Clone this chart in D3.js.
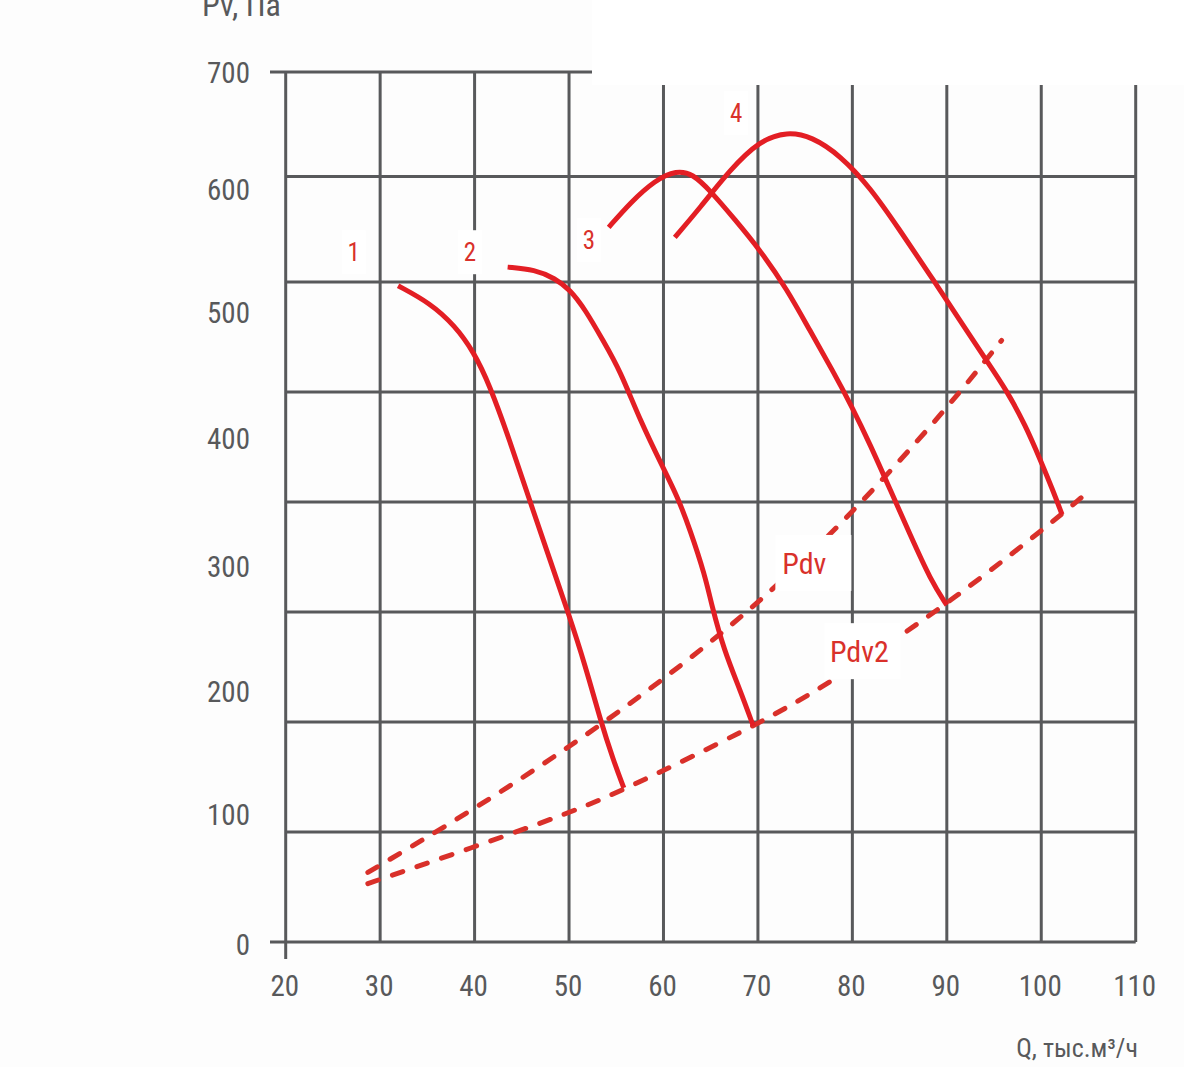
<!DOCTYPE html>
<html>
<head>
<meta charset="utf-8">
<script src="https://cdn.jsdelivr.net/npm/d3@7"></script>
<style>
  html, body { margin: 0; padding: 0; background: #fdfdfd; }
  svg { display: block; }
  text { font-family: "Roboto Condensed", "Liberation Sans Narrow", "DejaVu Sans Condensed", Roboto, sans-serif; font-stretch: condensed; }
</style>
</head>
<body>
<svg id="chart"></svg>
<script>
// ticks on the axes
const qTicks = [20, 30, 40, 50, 60, 70, 80, 90, 100, 110];
const pTicks = [0, 100, 200, 300, 400, 500, 600, 700];
// where the printed labels actually sit on the pressure scale (drawing is a bit uneven)
const pTickPos = [-1.5, 103, 202, 302.5, 405.5, 507, 606, 700];
// horizontal grid does not sit on the labels in the original drawing
const gridPa = [0, 88.5, 177, 265.5, 354, 442.5, 531, 616, 700];

// fan curves, [Q thousand m3/h, Pv Pa]
const curve1 = [[31.9, 528], [35.3, 514], [37.9, 496], [39.9, 475], [41.6, 448], [43.7, 404],
  [45.8, 356], [48.0, 307], [50.0, 263], [51.7, 223], [53.3, 179], [54.7, 146], [55.8, 124]];
const curve2 = [[43.5, 543], [46.4, 541], [48.5, 534], [50.1, 525], [51.7, 509], [53.6, 484],
  [55.4, 460], [57.5, 420], [60.0, 381], [61.5, 358], [62.8, 332], [64.4, 295], [65.1, 271],
  [66.4, 235], [68.1, 203], [69.5, 174]];
const curve3 = [[54.2, 575], [56.5, 595], [59.1, 613], [61.4, 621], [63.1, 618], [64.9, 605],
  [67.6, 581], [70.2, 557], [73.1, 525], [75.5, 492], [77.9, 460], [80.0, 430], [81.9, 400],
  [84.0, 364], [86.1, 328], [88.3, 291], [90.0, 271]];
const curve4 = [[61.2, 567], [63.9, 591], [67.0, 621], [70.2, 645], [73.1, 652], [75.7, 648],
  [78.7, 633], [81.9, 607], [85.0, 573], [88.2, 537], [91.4, 500], [94.0, 470], [96.4, 443],
  [98.3, 416], [99.9, 388], [101.2, 364], [102.2, 344]];
// network lines
const pdv = [[28.7, 56], [39.8, 106], [50.1, 157], [60.0, 211], [69.9, 271], [79.4, 340],
  [89.9, 428], [95.8, 484]];
const pdv2 = [[28.7, 47], [39.8, 76], [50.1, 104], [55.7, 122], [69.5, 173], [77.6, 208],
  [90.0, 271], [102.2, 344], [104.6, 360]];

const curveNames = ["1", "2", "3", "4"];
const curveLabelPos = [[27.2, 555], [39.5, 555], [52.1, 565], [67.7, 667]];

const W = 1184, H = 1067;
const gridColor = "#58595b";
const red = "#e31e24";
const dashRed = "#d9302a";

const svg = d3.select("#chart").attr("width", W).attr("height", H);

const x = d3.scaleLinear().domain([20, 110]).range([285.7, 1135.7]);
const y = d3.scaleLinear().domain([0, 700]).range([942, 72]);

// grid
const grid = svg.append("g").attr("stroke", gridColor).attr("stroke-width", 3);
grid.selectAll("line.v")
  .data(qTicks)
  .enter().append("line")
  .attr("x1", d => x(d)).attr("x2", d => x(d))
  .attr("y1", y(700)).attr("y2", d => d === 20 ? 959 : y(0));
grid.selectAll("line.h")
  .data(gridPa)
  .enter().append("line")
  .attr("x1", d => (d === 0 || d === 700) ? 270 : x(20))
  .attr("x2", x(110))
  .attr("y1", d => y(d)).attr("y2", d => y(d));

// white patch at top right of the source image
svg.append("rect").attr("x", 592).attr("y", 0).attr("width", W - 592).attr("height", 85).attr("fill", "#ffffff");

// tick labels
svg.append("g").selectAll("text")
  .data(pTicks)
  .enter().append("text")
  .attr("x", 250).attr("y", (d, i) => y(pTickPos[i]) + 11)
  .attr("text-anchor", "end")
  .attr("font-size", 29).attr("fill", "#58595b")
  .text(d => d);

svg.append("g").selectAll("text")
  .data(qTicks)
  .enter().append("text")
  .attr("x", d => x(d) - 1).attr("y", 996)
  .attr("text-anchor", "middle")
  .attr("font-size", 29).attr("fill", "#58595b")
  .text(d => d);

svg.append("text").attr("x", 202).attr("y", 16)
  .attr("font-size", 32).attr("fill", "#58595b").text("Pv, Па");
svg.append("text").attr("x", 1138).attr("y", 1057).attr("text-anchor", "end")
  .attr("font-size", 26).attr("fill", "#58595b").text("Q, тыс.м³/ч");

const line = d3.line()
  .x(d => x(d[0])).y(d => y(d[1]))
  .curve(d3.curveBasis);

// dashed network curves
svg.append("g").selectAll("path")
  .data([pdv, pdv2])
  .enter().append("path")
  .attr("d", line)
  .attr("fill", "none")
  .attr("stroke", dashRed)
  .attr("stroke-width", 5)
  .attr("stroke-linecap", "round")
  .attr("stroke-dasharray", "11,15");

// fan curves
svg.append("g").selectAll("path")
  .data([curve1, curve2, curve3, curve4])
  .enter().append("path")
  .attr("d", line)
  .attr("fill", "none")
  .attr("stroke", red)
  .attr("stroke-width", 5)
  .attr("stroke-linejoin", "round");

// labels with white backing boxes
function boxLabel(cx, cy, txt, size, bw, bh, dx) {
  const g = svg.append("g");
  g.append("rect").attr("x", cx - bw / 2).attr("y", cy - bh / 2)
    .attr("width", bw).attr("height", bh).attr("fill", "#ffffff");
  g.append("text").attr("x", cx + (dx || 0)).attr("y", cy + size * 0.36)
    .attr("text-anchor", "middle").attr("font-size", size).attr("fill", "#d9312b")
    .text(txt);
}
curveNames.forEach((n, i) => {
  boxLabel(x(curveLabelPos[i][0]), y(curveLabelPos[i][1]), n, 25, 24, 44);
});
boxLabel(x(80) - 39, y(305), "Pdv", 30, 76, 56, -9);
boxLabel(x(80) + 10, y(234), "Pdv2", 30, 76, 56, -3);
</script>
</body>
</html>
